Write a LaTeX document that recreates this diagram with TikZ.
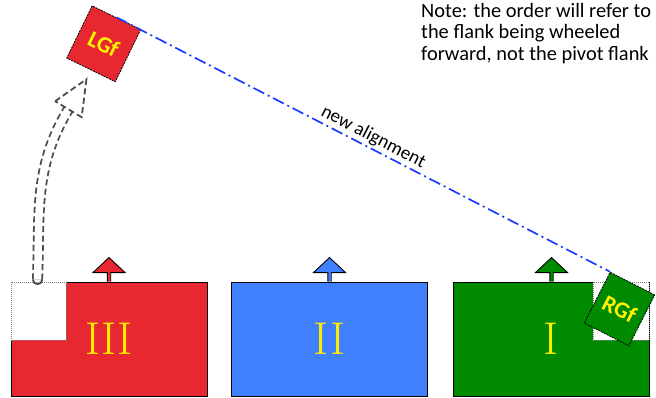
\documentclass[tikz,border=0pt]{standalone}
\usepackage{fontspec}
\usepackage{xcolor}
\usepackage{tikz}
\usetikzlibrary{arrows.meta,positioning,calc}
\newfontfamily\sansfont{Carlito}[BoldFont={Carlito Bold}]
\definecolor{unitred}{RGB}{232,40,48}
\definecolor{unitblue}{RGB}{64,128,255}
\definecolor{unitgreen}{RGB}{0,138,0}
\definecolor{linkblue}{RGB}{25,60,255}
\definecolor{numyellow}{RGB}{255,238,0}
\newcommand{\notefont}{\sansfont\fontsize{20.4}{21.5}\selectfont}
\newcommand{\numfont}{\fontsize{46}{46}\selectfont}
\newcommand{\flankfont}{\sansfont\bfseries\fontsize{23}{23}\selectfont}
\tikzset{
  unit/.style   ={rectangle, draw=black, line width=0.9pt, inner sep=0pt,
                  minimum width=196pt, minimum height=114pt,
                  font=\numfont, text=numyellow},
  gap/.style    ={rectangle, draw=gray, fill=white, line width=1pt,
                  dash pattern=on 1pt off 1pt, inner sep=0pt,
                  minimum width=55pt, minimum height=58pt},
  flank/.style  ={rectangle, draw=black, line width=0.8pt,
                  dash pattern=on 2pt off 1pt, inner sep=0pt,
                  minimum width=54pt, minimum height=58pt,
                  font=\flankfont, text=yellow},
  flag/.style   ={draw=black, line width=0.9pt},
  wheel/.style  ={draw=black!70, line width=1.8pt, dash pattern=on 6pt off 3.5pt},
  shaft/.style  ={preaction={draw=black!70, line width=11.1pt,
                  dash pattern=on 6pt off 3.5pt},
                  draw=white, line width=7.5pt},
  alignln/.style={draw=linkblue, line width=1.7pt,
                  dash pattern=on 12pt off 4pt on 2pt off 4pt},
  lbl/.style    ={font=\sansfont\fontsize{19}{19}\selectfont, inner sep=2pt},
}
\begin{document}
\begin{tikzpicture}[x=1pt,y=1pt]
\useasboundingbox (0,0) rectangle (656,397);
% ---- the three units ------------------------------------------------
\node[unit, fill=unitred]   (III) at (109,58)   {III};
\node[unit, fill=unitblue]  (II)  at (329.5,58) {II};
\node[unit, fill=unitgreen] (I)   at (551.5,58) {I};
\foreach \u/\c in {III/unitred, II/unitblue, I/unitgreen}
  \draw[flag, fill=\c] ([xshift=-1.7pt]\u.north) -- ++(0,9) -- ++(-14.3,0)
    -- ++(16,15) -- ++(16,-15) -- ++(-14.3,0) -- ++(0,-9);

% ---- places left by the flank markers -------------------------------
\node[gap, anchor=north west] (nL) at (III.north west) {};
\node[gap, anchor=north east, minimum width=56pt] (nR) at (I.north east) {};

% ---- flank markers --------------------------------------------------
\node[flank, fill=unitred, rotate=-26] (LGf) at (103.7,353.2) {LGf};
\node[flank, fill=unitgreen, rotate=-27, minimum width=50pt, minimum height=57pt]
  (RGf) at (619.5,88) {RGf};

% ---- wheel forward --------------------------------------------------
\coordinate (start) at ([xshift=-1pt,yshift=2pt]nL.north);
\coordinate (tip) at ($(LGf.south)!-10pt!(LGf.center)$);
\coordinate (hb)  at ($(tip)+(239:35)$);
\draw[shaft] (start) to[out=88,in=239] (hb);
\draw[wheel, dash pattern=] ([xshift=-4.65pt]start) arc[start angle=180, end angle=360, radius=4.65];
\draw[wheel, fill=white]
  ($(hb)!15.5pt!90:(tip)$) -- (tip) -- ($(hb)!15.5pt!-90:(tip)$) -- cycle;

% ---- new alignment --------------------------------------------------
\draw[alignln] (LGf.north) -- node[lbl, sloped, above, pos=0.51] {new alignment}
  (RGf.north west);

\node[font=\notefont, align=left, anchor=north west, inner sep=0pt] (note)
  at (421,394) {Note: the order will refer to\\the flank being wheeled\\forward, not the pivot flank};
\end{tikzpicture}
\end{document}
